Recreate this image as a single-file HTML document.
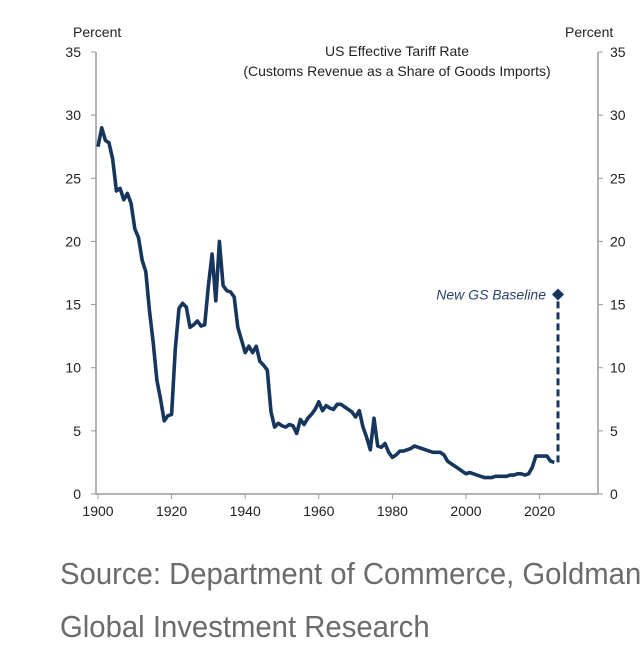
<!DOCTYPE html>
<html><head><meta charset="utf-8"><style>
body{margin:0;background:#fff;width:643px;height:659px;overflow:hidden;position:relative;font-family:"Liberation Sans",sans-serif}
svg{position:absolute;left:0;top:0}
.src{position:absolute;left:60px;font-family:"Liberation Sans Narrow","Liberation Sans",sans-serif;font-size:31px;color:#6b6b6b;white-space:nowrap;transform:scaleX(0.945);transform-origin:0 0}
</style></head><body>
<svg width="643" height="560">
<g id="axes"></g>
<text x="73" y="37" font-size="14" fill="#222">Percent</text>
<text x="565" y="37" font-size="14" fill="#222">Percent</text>
<text x="397" y="56" font-size="14" fill="#222" text-anchor="middle">US Effective  Tariff Rate</text>
<text x="397" y="76" font-size="14" fill="#222" text-anchor="middle">(Customs  Revenue  as a Share of Goods Imports)</text>
<path id="line" fill="none" stroke="#17365d" stroke-width="3.6" stroke-linejoin="round"/>
<line id="dash" stroke="#17365d" stroke-width="3" stroke-dasharray="7,4"/>
<path id="diamond" fill="#17365d"/>
<text id="blabel" font-size="14" font-style="italic" fill="#2a4468" text-anchor="end">New GS Baseline</text>
</svg>
<div class="src" style="top:556px">Source: Department of Commerce, Goldman</div>
<div class="src" style="top:609px">Global Investment Research</div>
<script>
const startYear=1900;
const rates=[27.5,29,28,27.8,26.5,24,24.2,23.3,23.8,23,21,20.3,18.5,17.6,14.5,12,9,7.5,5.8,6.2,6.3,11.5,14.7,15.1,14.8,13.2,13.4,13.7,13.3,13.4,16.5,19,15.3,20,16.5,16.1,16,15.6,13.2,12.2,11.2,11.7,11.2,11.7,10.5,10.2,9.8,6.5,5.3,5.6,5.4,5.3,5.5,5.4,4.8,5.9,5.5,6,6.3,6.7,7.3,6.6,7,6.8,6.7,7.1,7.1,6.9,6.7,6.5,6.1,6.6,5.3,4.5,3.5,6,3.8,3.7,4,3.3,2.9,3.1,3.4,3.4,3.5,3.6,3.8,3.7,3.6,3.5,3.4,3.3,3.3,3.3,3.1,2.6,2.4,2.2,2.0,1.8,1.6,1.7,1.6,1.5,1.4,1.3,1.3,1.3,1.4,1.4,1.4,1.4,1.5,1.5,1.6,1.6,1.5,1.6,2.1,3.0,3.0,3.0,3.0,2.6,2.5];
const baselineYear=2025;
const baselineValue=15.8;
const yTicks=[0,5,10,15,20,25,30,35];
const xTicks=[1900,1920,1940,1960,1980,2000,2020];
const X=y=>98+(y-1900)*3.68;
const Y=v=>494-v*(442/35);
const NS="http://www.w3.org/2000/svg";
const ax=document.getElementById('axes');
function mk(t,a){const e=document.createElementNS(NS,t);for(const k in a)e.setAttribute(k,a[k]);ax.appendChild(e);return e;}
let e=mk('line',{x1:96,y1:Y(35),x2:96,y2:494,stroke:'#999','stroke-width':1.5});


e=mk('line',{x1:598,y1:Y(35),x2:598,y2:494,stroke:'#999','stroke-width':1.5});


e=mk('line',{x1:96,y1:494,x2:598,y2:494,stroke:'#999','stroke-width':1.5});


yTicks.forEach(v=>{
 mk('line',{x1:91,y1:Y(v),x2:96,y2:Y(v),stroke:'#999'});
 mk('line',{x1:598,y1:Y(v),x2:603,y2:Y(v),stroke:'#999'});
 let t=mk('text',{x:81,y:Y(v)+5,'font-size':14,fill:'#222','text-anchor':'end'});t.textContent=v;
 
 
 t=mk('text',{x:610,y:Y(v)+5,'font-size':14,fill:'#222'});t.textContent=v;
 
 
});
xTicks.forEach(y=>{
 mk('line',{x1:X(y),y1:494,x2:X(y),y2:499,stroke:'#999'});
 let t=mk('text',{x:X(y),y:516,'font-size':14,fill:'#222','text-anchor':'middle'});t.textContent=y;
 
 
});
document.getElementById('line').setAttribute('d',rates.map((v,i)=>(i?'L':'M')+X(startYear+i).toFixed(1)+' '+Y(v).toFixed(1)).join(''));
const last=rates[rates.length-1];
const d=document.getElementById('dash');
d.setAttribute('x1',X(baselineYear));d.setAttribute('x2',X(baselineYear));
d.setAttribute('y1',Y(last));d.setAttribute('y2',Y(baselineValue));
const bx=X(baselineYear),by=Y(baselineValue);
document.getElementById('diamond').setAttribute('d',`M${bx} ${by-6}L${bx+6} ${by}L${bx} ${by+6}L${bx-6} ${by}Z`);
const bl=document.getElementById('blabel');bl.setAttribute('x',bx-12);bl.setAttribute('y',by+5);
</script>
</body></html>
